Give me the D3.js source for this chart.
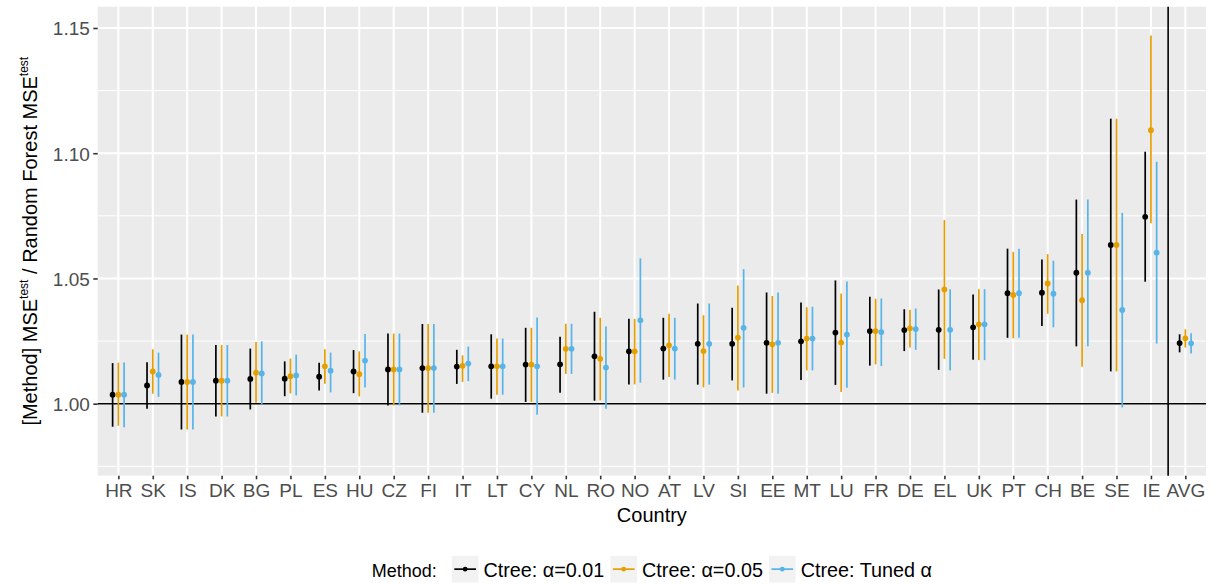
<!DOCTYPE html>
<html>
<head>
<meta charset="utf-8">
<script src="https://cdn.jsdelivr.net/npm/d3@7"></script>
<style>
  body { margin: 0; background: #fff; }
  text { font-family: "Liberation Sans", Arial, Helvetica, sans-serif; }
</style>
</head>
<body>
<div id="chart"></div>
<script>
// data
var countries = ["HR","SK","IS","DK","BG","PL","ES","HU","CZ","FI","IT","LT","CY","NL","RO","NO",
    "AT","LV","SI","EE","MT","LU","FR","DE","EL","UK","PT","CH","BE","SE","IE","AVG"];
var methods = ["Ctree: \u03b1=0.01", "Ctree: \u03b1=0.05", "Ctree: Tuned \u03b1"];
var methodColours = ["#000000", "#E69F00", "#56B4E9"];

var mean001 = [1.0036,1.0073,1.0087,1.0092,1.0099,1.0100,1.0108,1.0129,1.0137,1.0142,1.0148,1.0149,
    1.0156,1.0157,1.0189,1.0209,1.0220,1.0239,1.0239,1.0243,1.0249,1.0284,1.0290,1.0294,1.0295,1.0305,
    1.0441,1.0443,1.0523,1.0634,1.0746,1.0242];
var low001 = [0.9908,0.9980,0.9897,0.9949,0.9977,1.0030,1.0053,1.0042,0.9993,0.9964,1.0079,1.0020,
    1.0007,1.0044,1.0012,1.0077,1.0096,1.0076,1.0093,1.0040,1.0095,1.0075,1.0152,1.0210,1.0135,1.0175,
    1.0263,1.0310,1.0229,1.0129,1.0487,1.0205];
var high001 = [1.0162,1.0165,1.0276,1.0234,1.0220,1.0169,1.0163,1.0214,1.0280,1.0318,1.0215,1.0277,
    1.0303,1.0267,1.0367,1.0339,1.0343,1.0400,1.0383,1.0444,1.0404,1.0492,1.0427,1.0377,1.0456,1.0436,
    1.0619,1.0576,1.0815,1.1138,1.1006,1.0277];

var mean005 = [1.0036,1.0129,1.0087,1.0092,1.0124,1.0110,1.0149,1.0118,1.0137,1.0142,1.0151,1.0149,
    1.0156,1.0219,1.0179,1.0209,1.0233,1.0210,1.0264,1.0237,1.0260,1.0244,1.0290,1.0301,1.0456,1.0317,
    1.0434,1.0480,1.0413,1.0634,1.1092,1.0261];
var low005 = [0.9912,1.0040,0.9897,0.9949,1.0004,1.0041,1.0080,1.0029,0.9993,0.9964,1.0087,1.0036,
    1.0007,1.0119,1.0013,1.0077,1.0107,1.0065,1.0053,1.0043,1.0133,1.0047,1.0157,1.0224,1.0179,1.0174,
    1.0261,1.0359,1.0147,1.0129,1.0720,1.0224];
var high005 = [1.0164,1.0217,1.0276,1.0234,1.0246,1.0180,1.0217,1.0209,1.0280,1.0318,1.0193,1.0260,
    1.0303,1.0319,1.0343,1.0339,1.0359,1.0353,1.0472,1.0430,1.0385,1.0440,1.0419,1.0375,1.0733,1.0457,
    1.0606,1.0597,1.0677,1.1138,1.1470,1.0297];

var meanTuned = [1.0036,1.0115,1.0087,1.0092,1.0121,1.0113,1.0132,1.0172,1.0137,1.0142,1.0160,1.0149,
    1.0149,1.0219,1.0144,1.0333,1.0220,1.0239,1.0303,1.0243,1.0260,1.0276,1.0286,1.0298,1.0295,1.0317,
    1.0441,1.0439,1.0523,1.0374,1.0603,1.0241];
var lowTuned = [0.9906,1.0027,0.9897,0.9949,0.9997,1.0033,1.0045,1.0065,0.9993,0.9964,1.0090,1.0036,
    0.9956,1.0119,0.9980,1.0084,1.0096,1.0076,1.0065,1.0040,1.0133,1.0064,1.0150,1.0215,1.0133,1.0174,
    1.0263,1.0305,1.0229,0.9985,1.0240,1.0200];
var highTuned = [1.0164,1.0204,1.0276,1.0234,1.0249,1.0196,1.0204,1.0278,1.0280,1.0318,1.0228,1.0260,
    1.0344,1.0319,1.0308,1.0580,1.0343,1.0400,1.0537,1.0444,1.0387,1.0488,1.0420,1.0380,1.0457,1.0457,
    1.0619,1.0571,1.0815,1.0762,1.0966,1.0281];

var yMajorTicks = [1.00, 1.05, 1.10, 1.15];
var yMinorTicks = [0.975, 1.025, 1.075, 1.125];

// build long table
var seriesMeans = [mean001, mean005, meanTuned];
var seriesLows = [low001, low005, lowTuned];
var seriesHighs = [high001, high005, highTuned];
var rows = [];
methods.forEach(function (m, j) {
    countries.forEach(function (c, i) {
        rows.push({country: c, method: m, mean: seriesMeans[j][i],
            low: seriesLows[j][i], high: seriesHighs[j][i]});
    });
});

// layout
var width = 1215, height = 584;
var panelLeft = 97.7, panelRight = 1206, panelTop = 6.7, panelBottom = 475.7;
var greyText = "#4D4D4D";

var svg = d3.select("#chart").append("svg")
    .attr("width", width)
    .attr("height", height);

// scales
var x_scale = d3.scalePoint()
    .domain(countries)
    .range([panelLeft, panelRight])
    .padding(0.6);
var step = x_scale.step();
var dodge = d3.scaleBand()
    .domain(methods)
    .range([-step * 0.25, step * 0.25]);
var y_scale = d3.scaleLinear()
    .domain([0.97125, 1.1585])
    .range([panelBottom, panelTop]);
var colour = d3.scaleOrdinal().domain(methods).range(methodColours);

// panel background and grid
svg.append("rect")
    .attr("x", panelLeft).attr("y", panelTop)
    .attr("width", panelRight - panelLeft).attr("height", panelBottom - panelTop)
    .attr("fill", "#EBEBEB");
svg.append("g").selectAll("line")
    .data(yMinorTicks).enter()
    .append("line")
    .attr("x1", panelLeft).attr("x2", panelRight)
    .attr("y1", function (d) { return y_scale(d); })
    .attr("y2", function (d) { return y_scale(d); })
    .attr("stroke", "#fff").attr("stroke-width", 1);
svg.append("g").selectAll("line")
    .data(yMajorTicks).enter()
    .append("line")
    .attr("x1", panelLeft).attr("x2", panelRight)
    .attr("y1", function (d) { return y_scale(d); })
    .attr("y2", function (d) { return y_scale(d); })
    .attr("stroke", "#fff").attr("stroke-width", 2);
svg.append("g").selectAll("line")
    .data(countries).enter()
    .append("line")
    .attr("x1", function (d) { return x_scale(d); })
    .attr("x2", function (d) { return x_scale(d); })
    .attr("y1", panelTop).attr("y2", panelBottom)
    .attr("stroke", "#fff").attr("stroke-width", 2);

// reference lines
svg.append("line")
    .attr("x1", panelLeft).attr("x2", panelRight)
    .attr("y1", y_scale(1)).attr("y2", y_scale(1))
    .attr("stroke", "#000").attr("stroke-width", 1.6);
var sepX = (x_scale("IE") + x_scale("AVG")) / 2;
svg.append("line")
    .attr("x1", sepX).attr("x2", sepX)
    .attr("y1", panelTop).attr("y2", panelBottom)
    .attr("stroke", "#000").attr("stroke-width", 1.6);

// error bars and points
var marks = svg.append("g");
marks.selectAll("line")
    .data(rows).enter()
    .append("line")
    .attr("x1", function (d) { return x_scale(d.country) + dodge(d.method) + dodge.bandwidth() / 2; })
    .attr("x2", function (d) { return x_scale(d.country) + dodge(d.method) + dodge.bandwidth() / 2; })
    .attr("y1", function (d) { return y_scale(d.low); })
    .attr("y2", function (d) { return y_scale(d.high); })
    .attr("stroke", function (d) { return colour(d.method); })
    .attr("stroke-width", 1.7);
marks.selectAll("circle")
    .data(rows).enter()
    .append("circle")
    .attr("cx", function (d) { return x_scale(d.country) + dodge(d.method) + dodge.bandwidth() / 2; })
    .attr("cy", function (d) { return y_scale(d.mean); })
    .attr("r", 2.9)
    .attr("fill", function (d) { return colour(d.method); });

// axes
var y_axis = d3.axisLeft(y_scale)
    .tickValues(yMajorTicks)
    .tickSize(4.4)
    .tickPadding(3.5)
    .tickFormat(d3.format(".2f"));
var gy = svg.append("g")
    .attr("transform", "translate(" + panelLeft + ",0)")
    .call(y_axis);
var x_axis = d3.axisBottom(x_scale)
    .tickSize(3.6)
    .tickPadding(3.5);
var gx = svg.append("g")
    .attr("transform", "translate(0," + panelBottom + ")")
    .call(x_axis);
[gx, gy].forEach(function (g) {
    g.select(".domain").remove();
    g.selectAll(".tick line").attr("stroke", "#333333").attr("stroke-width", 1.6);
    g.selectAll(".tick text")
        .attr("fill", greyText)
        .style("font-size", "19px")
        .style("font-family", "'Liberation Sans', Arial, sans-serif");
});
gx.selectAll(".tick text").attr("dy", null).attr("y", 21.5);
gy.selectAll(".tick text").attr("dy", "0.36em");

// axis titles
svg.append("text")
    .attr("x", (panelLeft + panelRight) / 2)
    .attr("y", 522.3)
    .attr("text-anchor", "middle")
    .style("font-size", "20px")
    .text("Country");
var ytitle = svg.append("text")
    .attr("transform", "translate(36.5," + (panelTop + panelBottom) / 2 + ") rotate(-90)")
    .attr("text-anchor", "middle")
    .style("font-size", "20px");
ytitle.append("tspan").text("[Method] MSE");
ytitle.append("tspan").attr("dy", -9).style("font-size", "12px").text("test");
ytitle.append("tspan").attr("dy", 9).text(" / Random Forest MSE");
ytitle.append("tspan").attr("dy", -9).style("font-size", "12px").text("test");

// legend
var legend = svg.append("g");
var legendBaseline = 576.7, keySize = 26.7, keyTop = 555.8;
var cursor = 0;
var title = legend.append("text")
    .attr("x", 0).attr("y", legendBaseline)
    .style("font-size", "18px")
    .text("Method:");
cursor = title.node().getComputedTextLength() + 15;
methods.forEach(function (m, j) {
    var key = legend.append("g").attr("transform", "translate(" + cursor + ",0)");
    key.append("rect")
        .attr("x", 0).attr("y", keyTop)
        .attr("width", keySize).attr("height", keySize)
        .attr("fill", "#F2F2F2");
    key.append("line")
        .attr("x1", 2.5).attr("x2", keySize - 2.5)
        .attr("y1", keyTop + keySize / 2).attr("y2", keyTop + keySize / 2)
        .attr("stroke", colour(m)).attr("stroke-width", 1.7);
    key.append("circle")
        .attr("cx", keySize / 2).attr("cy", keyTop + keySize / 2)
        .attr("r", 2.4)
        .attr("fill", colour(m));
    var t = legend.append("text")
        .attr("x", cursor + keySize + 5).attr("y", legendBaseline)
        .style("font-size", "19.8px")
        .text(m);
    cursor += keySize + 5 + t.node().getComputedTextLength() + 6;
});
var legendWidth = cursor - 6;
legend.attr("transform", "translate(" + ((panelLeft + panelRight) / 2 - legendWidth / 2) + ",0)");
</script>
</body>
</html>
